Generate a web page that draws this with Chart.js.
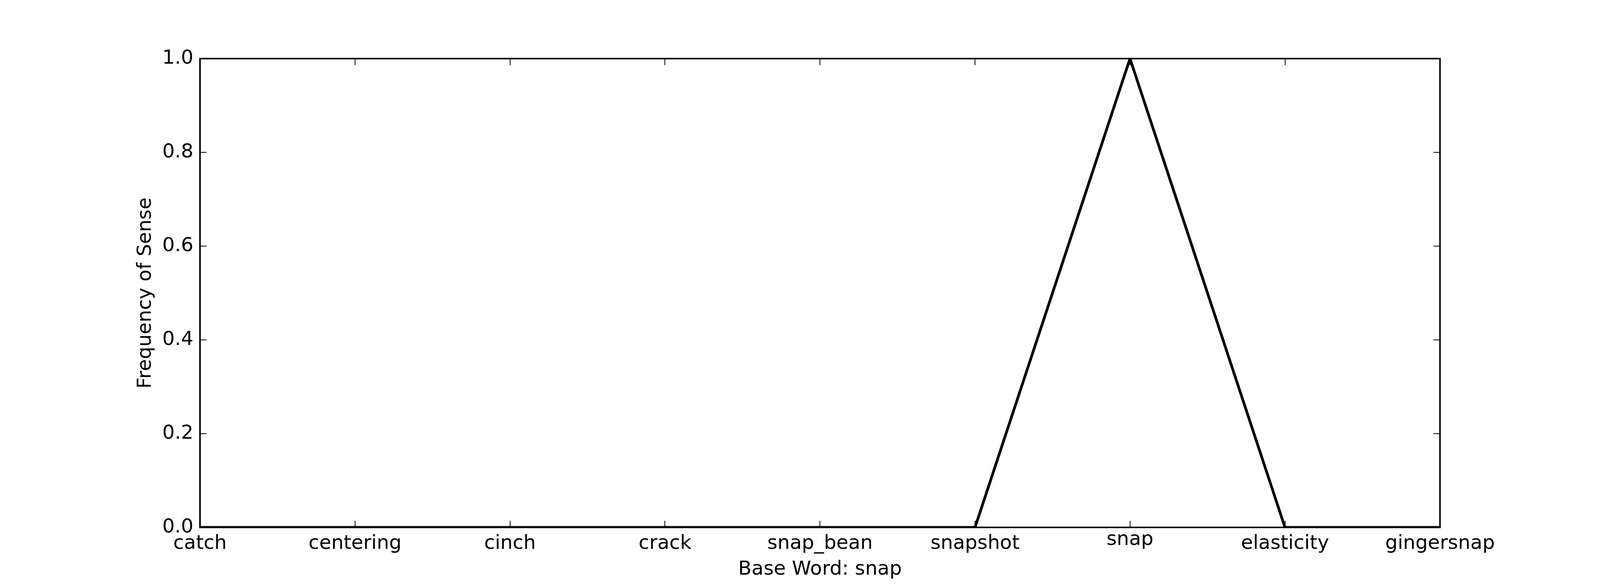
<!DOCTYPE html>
<html>
<head>
<meta charset="utf-8">
<script src="https://cdn.jsdelivr.net/npm/chart.js@4.4.1/dist/chart.umd.min.js"></script>
<style>
  html, body { margin: 0; padding: 0; background: #fff; overflow: hidden; }
  #wrap { position: relative; width: 100vw; height: 100vh; }
</style>
</head>
<body>
<div id="wrap"><canvas id="grafico"></canvas></div>
<script>
// datos
const categories = ["catch", "centering", "cinch", "crack", "snap_bean", "snapshot", "snap", "elasticity", "gingersnap"];
const senseFreq = [0, 0, 0, 0, 0, 0, 1, 0, 0];
const yTickValues = [0.0, 0.2, 0.4, 0.6, 0.8, 1.0];
const xTitle = "Base Word: snap";
const yTitle = "Frequency of Sense";

const FONT = '"DejaVu Sans", "Liberation Sans", sans-serif';

// marco estilo matplotlib: ejes en los 4 lados, ticks hacia dentro,
// etiquetas x alineadas por la parte superior de la tinta
const marco = {
  id: "marco",
  afterDraw(chart) {
    const { ctx, chartArea: a, scales: { x, y } } = chart;
    ctx.save();

    ctx.fillStyle = "#000";
    ctx.font = "50px " + FONT;
    ctx.textAlign = "center";
    ctx.textBaseline = "alphabetic";
    categories.forEach((label, i) => {
      const px = x.getPixelForValue(i);
      const asc = ctx.measureText(label).actualBoundingBoxAscent;
      ctx.fillText(label, px, a.bottom + 17 + asc);
    });

    const len = 16.7;
    ctx.strokeStyle = "#000";
    ctx.lineWidth = 2;
    ctx.beginPath();
    categories.forEach((_, i) => {
      const px = Math.round(x.getPixelForValue(i));
      ctx.moveTo(px, a.bottom);
      ctx.lineTo(px, a.bottom - len);
      ctx.moveTo(px, a.top);
      ctx.lineTo(px, a.top + len);
    });
    yTickValues.forEach((v) => {
      const py = Math.round(y.getPixelForValue(v));
      ctx.moveTo(a.left, py);
      ctx.lineTo(a.left + len, py);
      ctx.moveTo(a.right, py);
      ctx.lineTo(a.right - len, py);
    });
    ctx.stroke();

    ctx.lineWidth = 4;
    ctx.strokeRect(a.left, a.top, a.right - a.left, a.bottom - a.top);
    ctx.restore();
  },
};

Chart.defaults.font.family = FONT;
Chart.defaults.font.size = 50;
Chart.defaults.color = "#000";

const ctx = document.getElementById("grafico").getContext("2d");
new Chart(ctx, {
  type: "line",
  data: {
    labels: categories,
    datasets: [
      {
        data: senseFreq,
        borderColor: "#000",
        borderWidth: 7,
        borderJoinStyle: "round",
        pointRadius: 0,
        tension: 0,
        fill: false,
        clip: 0,
      },
    ],
  },
  options: {
    responsive: true,
    maintainAspectRatio: false,
    animation: false,
    // mismas proporciones que la figura: 12.5% izq, 10% der, 10% arriba y abajo
    layout: {
      padding: (c) => ({
        left: c.chart.width * 0.125 - 175,
        right: c.chart.width * 0.1,
        top: c.chart.height * 0.1,
        bottom: 0,
      }),
    },
    plugins: { legend: { display: false }, tooltip: { enabled: false } },
    scales: {
      x: {
        type: "category",
        offset: false,
        grid: { display: false, drawTicks: false },
        border: { display: false },
        ticks: { display: false },
        title: {
          display: true,
          text: xTitle,
          font: { size: 50, lineHeight: 1.2 },
          padding: { top: 0, bottom: 12 },
        },
        afterFit: (s) => { s.height = s.chart.height * 0.1; },
      },
      y: {
        min: 0,
        max: 1,
        grid: { display: false, drawTicks: false },
        border: { display: false },
        afterBuildTicks: (s) => { s.ticks = yTickValues.map((v) => ({ value: v })); },
        ticks: {
          padding: 17,
          callback: (v) => Number(v).toFixed(1),
        },
        title: {
          display: true,
          text: yTitle,
          font: { size: 50, lineHeight: 1.2 },
          padding: { top: 6, bottom: 0 },
        },
        afterFit: (s) => { s.width = 175; },
      },
    },
  },
  plugins: [marco],
});
</script>
</body>
</html>
